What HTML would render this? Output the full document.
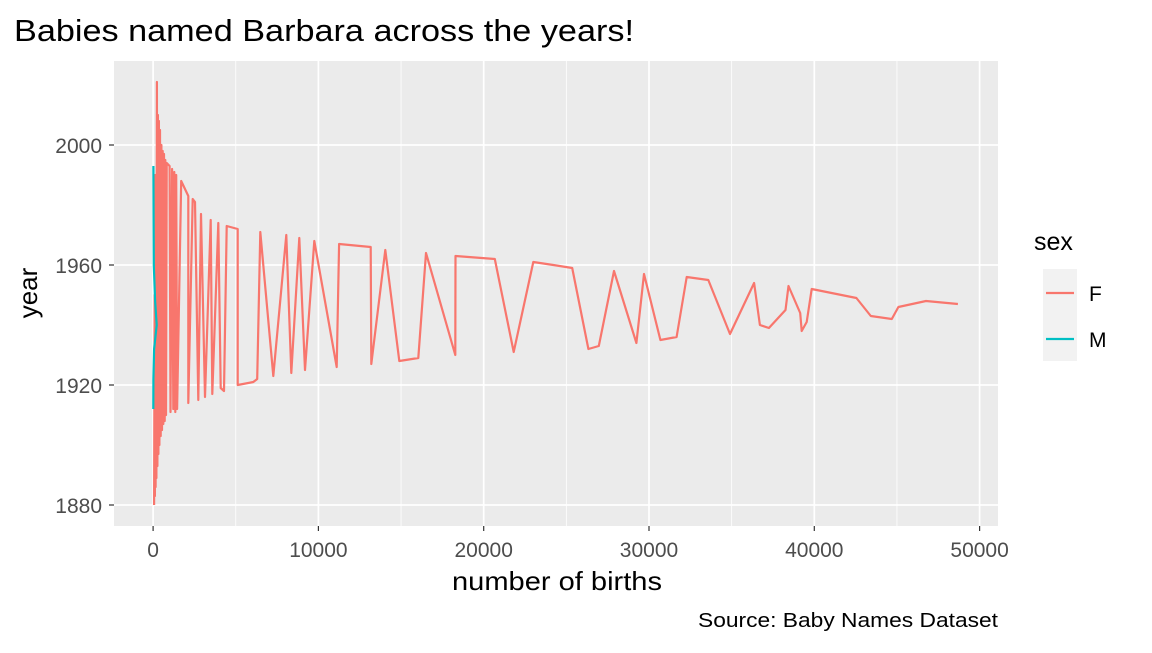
<!DOCTYPE html>
<html><head><meta charset="utf-8"><style>
body{margin:0;background:#fff;}
svg text{font-family:"Liberation Sans",Arial,sans-serif;}
</style></head><body>
<svg id="chart" width="1152" height="648" viewBox="0 0 1152 648">
<rect width="1152" height="648" fill="#fff"/>
<text x="14" y="41" font-size="31" textLength="620" lengthAdjust="spacingAndGlyphs" fill="#000">Babies named Barbara across the years!</text>
<rect x="114" y="61" width="884" height="465" fill="#EBEBEB"/>
<g id="grid"></g>
<g id="series"></g>
<g id="axes"></g>
<text x="557" y="590" font-size="26" text-anchor="middle" textLength="210" lengthAdjust="spacingAndGlyphs" fill="#000">number of births</text>
<text transform="translate(37,293) rotate(-90)" font-size="26" text-anchor="middle" fill="#000">year</text>
<text x="998" y="627" font-size="20" text-anchor="end" textLength="300" lengthAdjust="spacingAndGlyphs" fill="#000">Source: Baby Names Dataset</text>
<g>
<text x="1034" y="250" font-size="25" fill="#000">sex</text>
<rect x="1043" y="269" width="34" height="92" fill="#F2F2F2"/>
<line x1="1046" y1="293" x2="1074" y2="293" stroke="#F8766D" stroke-width="2.2"/>
<line x1="1046" y1="339" x2="1074" y2="339" stroke="#00BFC4" stroke-width="2.2"/>
<text x="1089" y="301" font-size="21" fill="#000">F</text>
<text x="1089" y="347" font-size="21" fill="#000">M</text>
</g>
</svg>
<script>
const xTicks=[0,10000,20000,30000,40000,50000];
const yTicks=[1880,1920,1960,2000];
const fBirths=[60,90,110,130,150,175,200,230,260,290,320,350,380,420,460,500,540,580,620,660,700,740,780,820,1000,1050,1150,1222,1280,1340,1400,1450,1700,2130,2130,2395,2535,2735,2900,3140,3485,3580,3945,4090,4290,4450,5120,5120,6060,6300,6485,7270,8060,8360,8845,9190,9750,11110,11250,13165,13200,14050,14895,16045,16510,18280,18295,20670,21815,23000,24210,25355,26335,26965,27880,29235,29695,30690,31670,32280,33590,34900,36360,36710,37255,38255,38440,39150,39235,39540,39840,42545,43420,44690,45085,46755,48690];
const fYears=[1880,1950,1883,1990,1886,1960,1889,2021,1893,2010,1897,2008,1900,2005,1903,2000,1905,1998,1907,1997,1908,1995,1910,1994,1993,1911,1992,1912,1991,1911,1990,1912,1988,1983,1914,1982,1981,1915,1977,1916,1975,1917,1974,1919,1918,1973,1972,1920,1921,1922,1971,1923,1970,1924,1969,1925,1968,1926,1967,1966,1927,1965,1928,1929,1964,1930,1963,1962,1931,1961,1960,1959,1932,1933,1958,1934,1957,1935,1936,1956,1955,1937,1954,1940,1939,1945,1953,1944,1938,1941,1952,1949,1943,1942,1946,1948,1947];
const mBirths=[20,30,40,120,220,60,20,10];
const mYears=[1993,1975,1960,1948,1940,1932,1922,1912];

const NS="http://www.w3.org/2000/svg";
const x0=114,x1=998,y0=61,y1=526;
const xs=v=>153.1+v*0.01653;
const ys=v=>145+(2000-v)*3;
function mk(tag,attrs,parent){const e=document.createElementNS(NS,tag);for(const k in attrs)e.setAttribute(k,attrs[k]);document.getElementById(parent).appendChild(e);return e;}
for(let v=-5000;v<=55000;v+=10000){const p=xs(v);if(p<x0||p>x1)continue;
const l=mk('line',{x1:p,x2:p,y1:y0,y2:y1,stroke:'#fff','stroke-width':0.8},'grid');

}
for(let v=1860;v<=2030;v+=40){const p=ys(v+20);if(p<y0||p>y1)continue;
const l=mk('line',{x1:x0,x2:x1,y1:p,y2:p,stroke:'#fff','stroke-width':0.8},'grid');

}
xTicks.forEach(v=>{const p=xs(v);
const l=mk('line',{x1:p,x2:p,y1:y0,y2:y1,stroke:'#fff','stroke-width':1.7},'grid');


const t=mk('line',{x1:p,x2:p,y1:y1,y2:y1+5,stroke:'#333','stroke-width':1.2},'axes');


const tx=mk('text',{x:p,y:y1+31,'font-size':21,'text-anchor':'middle',fill:'#4D4D4D'},'axes');tx.textContent=v;

});
yTicks.forEach(v=>{const p=ys(v);
const l=mk('line',{x1:x0,x2:x1,y1:p,y2:p,stroke:'#fff','stroke-width':1.7},'grid');


const t=mk('line',{x1:x0-5,x2:x0,y1:p,y2:p,stroke:'#333','stroke-width':1.2},'axes');


const tx=mk('text',{x:x0-12,y:p+8,'font-size':21,'text-anchor':'end',fill:'#4D4D4D'},'axes');tx.textContent=v;

});
function line(b,y,col,name){const d=b.map((v,i)=>(i?'L':'M')+xs(v).toFixed(1)+','+ys(y[i]).toFixed(1)).join('');
const p=mk('path',{d:d,fill:'none',stroke:col,'stroke-width':2.2,'stroke-linejoin':'round'},'series');

}
line(fBirths,fYears,'#F8766D','series-f-line');
line(mBirths,mYears,'#00BFC4','series-m-line');
</script>
</body></html>
